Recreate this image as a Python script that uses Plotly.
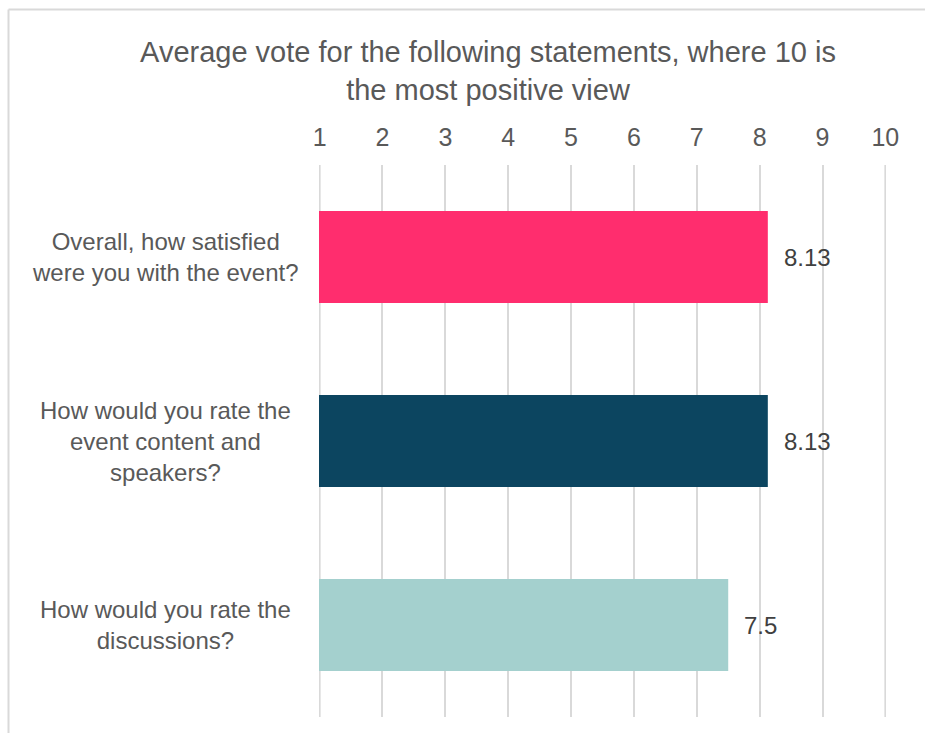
import plotly.graph_objects as go

# Survey statements and their average score (1-10 scale)
categories = [
    "Overall, how satisfied<br>were you with the event?",
    "How would you rate the<br>event content and<br>speakers?",
    "How would you rate the<br>discussions?",
]
scores = [8.13, 8.13, 7.5]
bar_colors = ["#FF2D6E", "#0C4560", "#A4D0CE"]
tick_values = list(range(1, 11))
tick_labels = [str(v) for v in tick_values]

W, H = 925, 733
ML, MR, MT, MB = 319, 39, 165, 16
PW, PH = W - ML - MR, H - MT - MB

FONT = "Liberation Sans, Arial, sans-serif"
GRID = "#D9D9D9"

fig = go.Figure(
    go.Bar(
        x=scores,
        y=list(range(len(categories))),
        orientation="h",
        marker=dict(color=bar_colors, line=dict(width=0)),
        width=0.5,
        hoverinfo="skip",
    )
)

annotations = []
# value labels just past the bar ends
for i, v in enumerate(scores):
    annotations.append(dict(
        x=v, y=i, xref="x", yref="y", text=f"{v:g}",
        showarrow=False, xanchor="left", yanchor="middle", xshift=14,
        font=dict(family=FONT, size=24, color="#404040"),
    ))
# statement labels, centred in the left gutter
for i, c in enumerate(categories):
    annotations.append(dict(
        x=(165 - ML) / PW, y=i, xref="paper", yref="y", text=c,
        showarrow=False, xanchor="center", yanchor="middle", align="center",
        font=dict(family=FONT, size=24, color="#595959"),
    ))

# light frame around the chart area
fx0 = (8.5 - ML) / PW
fy1 = 1 + (MT - 9.5) / PH
shapes = [
    dict(type="line", xref="paper", yref="paper", x0=fx0, x1=fx0, y0=-1, y1=fy1,
         line=dict(color=GRID, width=2)),
    dict(type="line", xref="paper", yref="paper", x0=fx0, x1=2, y0=fy1, y1=fy1,
         line=dict(color=GRID, width=2)),
]
# grid lines at the two ends of the scale, which sit on the plot edges
for v in (tick_values[0], tick_values[-1]):
    shapes.append(dict(type="line", xref="x", yref="paper", x0=v, x1=v, y0=0, y1=1,
                       layer="below", line=dict(color=GRID, width=2)))

fig.update_layout(
    width=W, height=H,
    margin=dict(l=ML, r=MR, t=MT, b=MB),
    paper_bgcolor="white", plot_bgcolor="white",
    showlegend=False,
    title=dict(
        text="Average vote for the following statements, where 10 is<br>the most positive view",
        x=488 / W, xanchor="center", y=1 - 62 / H, yanchor="middle",
        font=dict(family=FONT, size=29, color="#595959"),
    ),
    xaxis=dict(
        range=[0.99, 10.01], side="top", tickvals=tick_values, ticktext=tick_labels,
        showgrid=True, gridcolor=GRID, gridwidth=2,
        zeroline=False, showline=False, ticks="",
        tickfont=dict(family=FONT, size=25, color="#595959"),
        ticklabelstandoff=13,
    ),
    yaxis=dict(
        range=[2.5, -0.5], showticklabels=False, showgrid=False,
        zeroline=False, showline=False, ticks="",
    ),
    annotations=annotations,
    shapes=shapes,
)

fig.write_html("out.html")
